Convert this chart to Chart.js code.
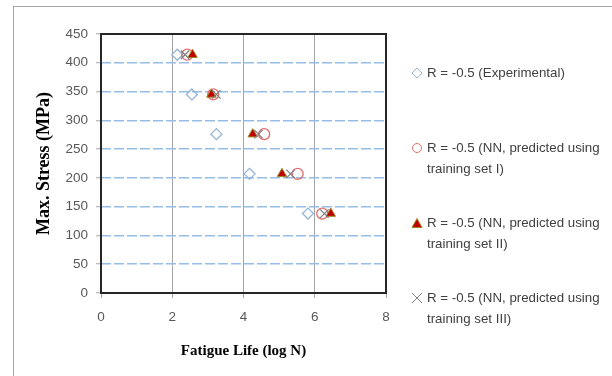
<!DOCTYPE html>
<html>
<head>
<meta charset="utf-8">
<script src="https://cdn.jsdelivr.net/npm/chart.js@4.4.1/dist/chart.umd.min.js"></script>
<style>
  html, body { margin: 0; padding: 0; background: #fff; }
  #wrap { position: relative; width: 612px; height: 376px; overflow: hidden; }
  #frame { position: absolute; left: 13px; top: 6px; width: 640px; height: 420px; border: 1px solid #a6a6a6; box-sizing: border-box; }
  canvas { position: absolute; left: 0; top: 0; }
  .leg { position: absolute; left: 411px; font-family: "Liberation Sans", Arial, sans-serif; font-size: 13.3px; color: #404040; line-height: 21px; white-space: nowrap; }
  .leg svg { position: absolute; left: 0; top: 5px; }
  .leg span { display: block; padding-left: 16px; }
</style>
</head>
<body>
<div id="wrap">
  <div id="frame"></div>
  <canvas id="c" width="612" height="376"></canvas>
  <div class="leg" style="top:62px">
    <svg width="12" height="12"><polygon points="6,1 11,6 6,11 1,6" fill="none" stroke="#95b3d7" stroke-width="1"/></svg>
    <span id="l0"></span>
  </div>
  <div class="leg" style="top:137px">
    <svg width="12" height="12"><circle cx="6" cy="6" r="4.5" fill="none" stroke="#e46c6c" stroke-width="1"/></svg>
    <span id="l1a"></span><span id="l1b"></span>
  </div>
  <div class="leg" style="top:212px">
    <svg width="12" height="12"><polygon points="6,1.5 11,10.5 1,10.5" fill="#c00000" stroke="#9c8a2a" stroke-width="1"/></svg>
    <span id="l2a"></span><span id="l2b"></span>
  </div>
  <div class="leg" style="top:287px">
    <svg width="12" height="12"><path d="M1,1 L11,11 M11,1 L1,11" stroke="#808080" stroke-width="1"/></svg>
    <span id="l3a"></span><span id="l3b"></span>
  </div>
</div>
<script>
// ---- data ----
const seriesNames = [
  ["R = -0.5 (Experimental)"],
  ["R = -0.5 (NN, predicted using", "training set I)"],
  ["R = -0.5 (NN, predicted using", "training set II)"],
  ["R = -0.5 (NN, predicted using", "training set III)"]
];
const stress = [414, 345, 276, 207, 138];
const lifeExperimental = [2.14, 2.55, 3.24, 4.17, 5.81];
const lifeSetI = [2.42, 3.15, 4.58, 5.52, 6.21];
const lifeSetII = [2.57, 3.10, 4.26, 5.08, 6.45];
const lifeSetIII = [2.36, 3.24, 4.42, 5.32, 6.27];
const xTicks = [0, 2, 4, 6, 8];
const yTicks = [0, 50, 100, 150, 200, 250, 300, 350, 400, 450];

document.getElementById('l0').textContent = seriesNames[0][0];
document.getElementById('l1a').textContent = seriesNames[1][0];
document.getElementById('l1b').textContent = seriesNames[1][1];
document.getElementById('l2a').textContent = seriesNames[2][0];
document.getElementById('l2b').textContent = seriesNames[2][1];
document.getElementById('l3a').textContent = seriesNames[3][0];
document.getElementById('l3b').textContent = seriesNames[3][1];

const pts = (xs) => xs.map((x, i) => ({ x: x, y: stress[i] }));

const borderPlugin = {
  id: 'plotBorder',
  afterDraw(chart) {
    const a = chart.chartArea, ctx = chart.ctx;
    ctx.save();
    ctx.strokeStyle = '#262626';
    ctx.lineWidth = 2;
    ctx.strokeRect(a.left, a.top, a.right - a.left, a.bottom - a.top);
    ctx.restore();
  }
};

new Chart(document.getElementById('c'), {
  type: 'scatter',
  data: {
    datasets: [
      { label: seriesNames[0].join(' '), data: pts(lifeExperimental), pointStyle: 'rectRot', pointRadius: 5.5, pointHoverRadius: 5.5,
        backgroundColor: 'rgba(0,0,0,0)', borderColor: '#95b3d7', pointBorderWidth: 1.3, order: 4 },
      { label: seriesNames[1].join(' '), data: pts(lifeSetI), pointStyle: 'circle', pointRadius: 5.5, pointHoverRadius: 5.5,
        backgroundColor: 'rgba(0,0,0,0)', borderColor: '#e46c6c', pointBorderWidth: 1.3, order: 3 },
      { label: seriesNames[2].join(' '), data: pts(lifeSetII), pointStyle: 'triangle', pointRadius: 5.5, pointHoverRadius: 5.5,
        backgroundColor: '#c00000', borderColor: '#9c8a2a', pointBorderWidth: 1, order: 2 },
      { label: seriesNames[3].join(' '), data: pts(lifeSetIII), pointStyle: 'crossRot', pointRadius: 6, pointHoverRadius: 6,
        backgroundColor: 'rgba(0,0,0,0)', borderColor: '#7f7f7f', pointBorderWidth: 1.2, order: 1 }
    ]
  },
  options: {
    responsive: false,
    animation: false,
    events: [],
    layout: { padding: { left: 0, top: 34, right: 226, bottom: 0 } },
    plugins: { legend: { display: false }, tooltip: { enabled: false } },
    scales: {
      x: {
        type: 'linear', min: 0, max: 8,
        afterBuildTicks: (s) => { s.ticks = xTicks.map(v => ({ value: v })); },
        afterFit: (s) => { s.height = 83; },
        grid: { color: '#a6a6a6', lineWidth: 1, tickLength: 5, drawOnChartArea: true },
        border: { display: false },
        ticks: { color: '#595959', font: { family: 'Liberation Sans', size: 13.5 }, padding: 11 },
        title: { display: true, text: 'Fatigue Life (log N)', color: '#000',
          font: { family: 'Liberation Serif', size: 15, weight: 'bold' }, padding: { top: 0, bottom: 16 } }
      },
      y: {
        type: 'linear', min: 0, max: 450,
        afterBuildTicks: (s) => { s.ticks = yTicks.map(v => ({ value: v })); },
        afterFit: (s) => { s.width = 101; },
        grid: { color: '#95bde6', lineWidth: 1.5, tickLength: 5, tickColor: '#a6a6a6', tickWidth: 1 },
        border: { display: false, dash: [10, 3] },
        ticks: { color: '#595959', font: { family: 'Liberation Sans', size: 13.5 }, padding: 8 },
        title: { display: true, text: 'Max. Stress (MPa)', color: '#000',
          font: { family: 'Liberation Serif', size: 18, weight: 'bold' }, padding: { top: 34, bottom: 0 } }
      }
    }
  },
  plugins: [borderPlugin]
});
</script>
</body>
</html>
